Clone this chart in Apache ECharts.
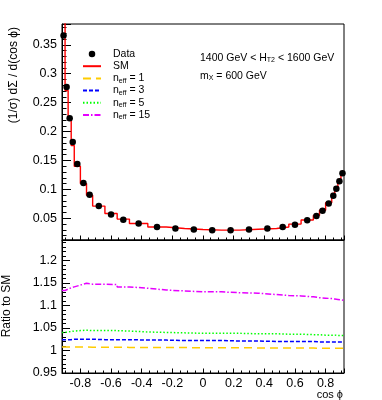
<!DOCTYPE html>
<html>
<head>
<meta charset="utf-8">
<script src="https://cdn.jsdelivr.net/npm/echarts@6/dist/echarts.min.js"></script>
<style>
html, body { margin: 0; padding: 0; background: #fff; }
#chart { width: 382px; height: 400px; }
</style>
</head>
<body>
<div id="chart"></div>
<script>
// variable-width bins in cos(phi)
const binEdges = [-0.92, -0.90, -0.88, -0.86, -0.84, -0.80, -0.76, -0.72, -0.64, -0.56, -0.48, -0.36, -0.24, -0.12, 0,
  0.12, 0.24, 0.36, 0.48, 0.56, 0.64, 0.72, 0.76, 0.80, 0.84, 0.86, 0.88, 0.90, 0.92]

const dataVals = [0.366, 0.277, 0.223, 0.182, 0.144, 0.111, 0.0906, 0.0715, 0.0566, 0.0476, 0.0410, 0.0351, 0.0323, 0.0306,
  0.0294, 0.0294, 0.0306, 0.0323, 0.0350, 0.0390, 0.0467, 0.0540, 0.0630, 0.0757, 0.0890, 0.1010, 0.1140, 0.1280]

const smVals = [0.400, 0.271, 0.220, 0.176, 0.140, 0.110, 0.0900, 0.0711, 0.0584, 0.0486, 0.0410, 0.0350, 0.0324, 0.0306,
  0.0295, 0.0295, 0.0310, 0.0325, 0.0350, 0.0400, 0.0470, 0.0550, 0.0640, 0.0770, 0.0930, 0.1040, 0.1170, 0.1310]

const ratioN1 = [1.0075, 1.0075, 1.0075, 1.0075, 1.0075, 1.0075, 1.0073, 1.0072, 1.0070, 1.0068, 1.0067, 1.0065, 1.0063, 1.0062,
  1.0060, 1.0058, 1.0057, 1.0055, 1.0054, 1.0053, 1.0052, 1.0051, 1.0050, 1.0050, 1.0050, 1.0050, 1.0050, 1.0050]
const ratioN3 = [1.024, 1.024, 1.024, 1.025, 1.025, 1.025, 1.025, 1.024, 1.024, 1.024, 1.023, 1.023, 1.022, 1.022,
  1.022, 1.021, 1.021, 1.020, 1.020, 1.020, 1.020, 1.019, 1.019, 1.019, 1.019, 1.019, 1.019, 1.019]
const ratioN5 = [1.040, 1.041, 1.042, 1.043, 1.044, 1.045, 1.044, 1.044, 1.044, 1.043, 1.041, 1.040, 1.039, 1.038,
  1.038, 1.038, 1.037, 1.037, 1.036, 1.036, 1.035, 1.035, 1.034, 1.034, 1.034, 1.033, 1.033, 1.033]
const ratioN15 = [1.133, 1.136, 1.139, 1.141, 1.145, 1.149, 1.147, 1.147, 1.146, 1.141, 1.138, 1.134, 1.132, 1.130,
  1.130, 1.128, 1.127, 1.124, 1.122, 1.121, 1.119, 1.117, 1.116, 1.115, 1.114, 1.113, 1.112, 1.111]

const legendNames = ['Data', 'SM', 'neff = 1', 'neff = 3', 'neff = 5', 'neff = 15']

const FONT = 'Liberation Sans, Arial, Helvetica, sans-serif'

const binCenters = binEdges.slice(0, -1).map((e, i) => (e + binEdges[i + 1]) / 2)
// histogram outline: one flat segment per bin
const toSteps = vals => vals.flatMap((v, i) => [[binEdges[i], v], [binEdges[i + 1], v]])

const axisCommon = {
  type: 'value',
  splitLine: { show: false },
  axisLine: { show: true, onZero: false, lineStyle: { color: '#000', width: 1 } },
  axisLabel: { color: '#000', fontFamily: FONT, fontSize: 12.5, showMinLabel: false, showMaxLabel: false }
}

const chart = echarts.init(document.getElementById('chart'))

const ratioSeries = (name, vals, color, dash) => ({
  name,
  type: 'line',
  xAxisIndex: 1,
  yAxisIndex: 1,
  data: toSteps(vals),
  symbol: 'none',
  lineStyle: { color, width: 1.5, type: dash },
  itemStyle: { color },
  z: 3
})

chart.setOption({
  animation: false,
  backgroundColor: '#fff',
  grid: [
    { left: 62, top: 24, width: 282, height: 216, show: true, borderColor: '#000', borderWidth: 1, backgroundColor: 'transparent' },
    { left: 62, top: 240, width: 282, height: 133, show: true, borderColor: '#000', borderWidth: 1, backgroundColor: 'transparent' }
  ],
  xAxis: [
    {
      ...axisCommon, gridIndex: 0, min: -0.92, max: 0.92, minInterval: 0.2, maxInterval: 0.2,
      axisLabel: { show: false },
      axisTick: { show: true, inside: true, length: 4.5, lineStyle: { color: '#000' } },
      minorTick: { show: true, splitNumber: 4, length: 2.5, lineStyle: { color: '#000' } }
    },
    {
      ...axisCommon, gridIndex: 1, min: -0.92, max: 0.92, minInterval: 0.2, maxInterval: 0.2,
      axisLabel: { ...axisCommon.axisLabel, margin: 4 },
      axisTick: { show: true, inside: true, length: 4.5, lineStyle: { color: '#000' } },
      minorTick: { show: true, splitNumber: 4, length: 2.5, lineStyle: { color: '#000' } }
    }
  ],
  yAxis: [
    {
      ...axisCommon, gridIndex: 0, min: 0.0125, max: 0.386, minInterval: 0.05, maxInterval: 0.05,
      axisLabel: { ...axisCommon.axisLabel, margin: 5 },
      axisTick: { show: true, inside: true, length: 9, lineStyle: { color: '#000' } },
      minorTick: { show: true, splitNumber: 5, length: 4.5, lineStyle: { color: '#000' } }
    },
    {
      ...axisCommon, gridIndex: 1, min: 0.95, max: 1.245, minInterval: 0.05, maxInterval: 0.05,
      axisLabel: { ...axisCommon.axisLabel, margin: 5, showMinLabel: true },
      axisTick: { show: true, inside: true, length: 8, lineStyle: { color: '#000' } },
      minorTick: { show: true, splitNumber: 5, length: 4, lineStyle: { color: '#000' } }
    }
  ],
  legend: {
    orient: 'vertical',
    left: 82,
    top: 48,
    padding: 0,
    itemWidth: 18,
    itemHeight: 6.5,
    itemGap: 0.2,
    selectedMode: false,
    // only the data entry keeps its marker; the others show just the line sample
    data: legendNames.map(name => name === 'Data'
      ? { name, itemStyle: { color: '#000', opacity: 1 } }
      : { name, itemStyle: { opacity: 0 } }),
    formatter: name => name.startsWith('neff') ? `{n|n}{s|eff}{n|${name.slice(4)}}` : name,
    textStyle: {
      fontFamily: FONT, fontSize: 10.5, color: '#000', lineHeight: 12, padding: [0, 0, 0, 7],
      rich: {
        n: { fontFamily: FONT, fontSize: 10.5, color: '#000', lineHeight: 12 },
        s: { fontFamily: FONT, fontSize: 7, color: '#000', padding: [5, 0, 0, 0] }
      }
    }
  },
  graphic: [
    {
      type: 'text', x: 14, y: 27, rotation: Math.PI / 2,
      style: { text: '(1/σ) dΣ / d(cos ϕ)', fontFamily: FONT, fontSize: 12, fill: '#000', align: 'right', verticalAlign: 'middle' }
    },
    {
      type: 'text', x: 7, y: 306, rotation: Math.PI / 2,
      style: { text: 'Ratio to SM', fontFamily: FONT, fontSize: 12, fill: '#000', align: 'center', verticalAlign: 'middle' }
    },
    {
      type: 'text', x: 343, y: 395,
      style: { text: 'cos ϕ', fontFamily: FONT, fontSize: 11, fill: '#000', align: 'right', verticalAlign: 'middle' }
    },
    {
      type: 'text', x: 200, y: 58,
      style: {
        text: '{a|1400 GeV < H}{b|T2}{a| < 1600 GeV}', fill: '#000', verticalAlign: 'middle',
        rich: {
          a: { fontFamily: FONT, fontSize: 10.5, fill: '#000', lineHeight: 12 },
          b: { fontFamily: FONT, fontSize: 7, fill: '#000', padding: [5, 0, 0, 0] }
        }
      }
    },
    {
      type: 'text', x: 200, y: 76,
      style: {
        text: '{a|m}{b|X}{a| = 600 GeV}', fill: '#000', verticalAlign: 'middle',
        rich: {
          a: { fontFamily: FONT, fontSize: 10.5, fill: '#000', lineHeight: 12 },
          b: { fontFamily: FONT, fontSize: 7, fill: '#000', padding: [5, 0, 0, 0] }
        }
      }
    }
  ],
  series: [
    {
      name: 'SM',
      type: 'line',
      xAxisIndex: 0,
      yAxisIndex: 0,
      data: toSteps(smVals),
      symbol: 'none',
      lineStyle: { color: '#ff0000', width: 1.4 },
      itemStyle: { color: '#ff0000' },
      z: 2
    },
    {
      name: 'Data',
      type: 'scatter',
      xAxisIndex: 0,
      yAxisIndex: 0,
      data: binCenters.map((c, i) => [c, dataVals[i]]),
      symbol: 'circle',
      symbolSize: 6.5,
      itemStyle: { color: '#000', opacity: 1 },
      z: 4
    },
    ratioSeries('neff = 1', ratioN1, '#ffcc00', [8, 5]),
    ratioSeries('neff = 3', ratioN3, '#0000ff', [4, 2]),
    ratioSeries('neff = 5', ratioN5, '#00ff00', [1.5, 2]),
    ratioSeries('neff = 15', ratioN15, '#e600ff', [6, 2, 1.5, 2])
  ]
})
</script>
</body>
</html>
